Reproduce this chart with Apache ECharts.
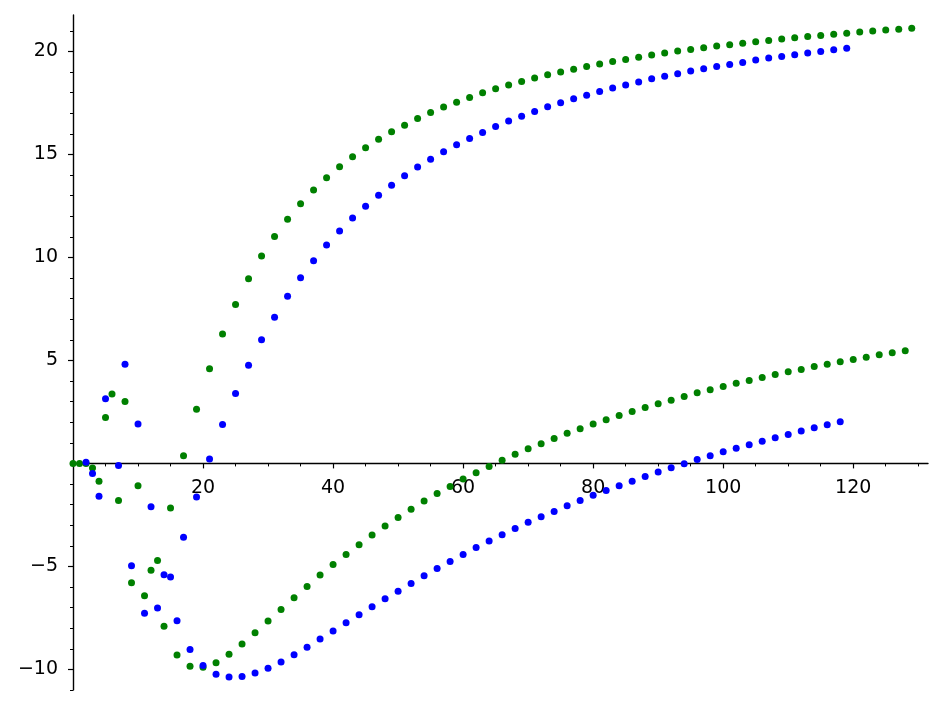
<!DOCTYPE html>
<html>
<head>
<meta charset="utf-8">
<script src="https://cdn.jsdelivr.net/npm/echarts@6/dist/echarts.min.js"></script>
<style>
  html, body { margin: 0; padding: 0; background: #fff; }
  #chart { width: 943px; height: 705px; }
</style>
</head>
<body>
<div id="chart"></div>
<script>
// y value of point n sits at index n (x = n)
var greenY = [
  0, 0, 0, -0.22, -0.87, 2.23, 3.37, -1.80, 3.01, -5.79,
  -1.08, -6.42, -5.19, -4.71, -7.90, -2.17, -9.30, 0.37, -9.85, 2.63,
  -9.90, 4.60, -9.68, 6.28, -9.27, 7.72, -8.77, 8.97, -8.22, 10.07,
  -7.65, 11.02, -7.09, 11.86, -6.52, 12.61, -5.97, 13.27, -5.42, 13.87,
  -4.91, 14.40, -4.42, 14.89, -3.95, 15.33, -3.48, 15.74, -3.04, 16.10,
  -2.62, 16.42, -2.22, 16.75, -1.83, 17.04, -1.46, 17.30, -1.12, 17.54,
  -0.76, 17.77, -0.45, 17.99, -0.15, 18.19, 0.15, 18.37, 0.44, 18.54,
  0.71, 18.71, 0.96, 18.87, 1.21, 19.00, 1.46, 19.14, 1.68, 19.27,
  1.91, 19.39, 2.12, 19.51, 2.33, 19.61, 2.52, 19.72, 2.72, 19.83,
  2.90, 19.92, 3.07, 20.02, 3.25, 20.10, 3.43, 20.18, 3.58, 20.26,
  3.74, 20.32, 3.89, 20.40, 4.03, 20.47, 4.17, 20.53, 4.32, 20.60,
  4.45, 20.66, 4.56, 20.73, 4.71, 20.78, 4.82, 20.83, 4.94, 20.89,
  5.05, 20.94, 5.16, 20.99, 5.27, 21.04, 5.37, 21.08, 5.47, 21.13
]

var blueY = [
  null, null, 0.06, -0.49, -1.59, 3.14, null, -0.10, 4.82, -4.97,
  1.91, -7.27, -2.10, -7.02, -5.41, -5.52, -7.64, -3.58, -9.03, -1.63,
  -9.81, 0.21, -10.23, 1.89, -10.37, 3.40, -10.34, 4.76, -10.18, 6.00,
  -9.94, 7.10, -9.64, 8.11, -9.29, 9.01, -8.92, 9.84, -8.53, 10.60,
  -8.14, 11.28, -7.74, 11.91, -7.35, 12.48, -6.96, 13.02, -6.57, 13.51,
  -6.20, 13.96, -5.83, 14.39, -5.45, 14.77, -5.10, 15.13, -4.76, 15.47,
  -4.42, 15.78, -4.08, 16.07, -3.77, 16.36, -3.46, 16.62, -3.16, 16.86,
  -2.86, 17.09, -2.59, 17.31, -2.33, 17.51, -2.06, 17.70, -1.80, 17.88,
  -1.55, 18.06, -1.31, 18.22, -1.08, 18.37, -0.86, 18.52, -0.63, 18.67,
  -0.42, 18.80, -0.21, 18.92, -0.02, 19.05, 0.19, 19.16, 0.37, 19.27,
  0.57, 19.37, 0.74, 19.47, 0.91, 19.58, 1.08, 19.68, 1.25, 19.76,
  1.41, 19.84, 1.57, 19.92, 1.73, 20.00, 1.88, 20.08, 2.02, 20.15
]

var xMajorTicks = [20, 40, 60, 80, 100, 120]
var xMinorTicks = [5, 10, 15, 25, 30, 35, 45, 50, 55, 65, 70, 75, 85, 90, 95, 105, 110, 115, 125, 130]
var yMajorTicks = [-10, -5, 5, 10, 15, 20]
var yMinorTicks = [-11, -9, -8, -7, -6, -4, -3, -2, -1, 1, 2, 3, 4, 6, 7, 8, 9, 11, 12, 13, 14, 16, 17, 18, 19, 21]

function toPoints(ys) {
  var pts = []
  ys.forEach(function(y, i) {
    if (y !== null) pts.push([i, y])
  })
  return pts
}

function minusLabel(v) {
  return v < 0 ? '\u2212' + (-v) : String(v)
}

var X_MIN = 0
var X_MAX = 131.5
var Y_MIN = -11.0
var Y_MAX = 21.77

var PLOT_TOP = 15
var PLOT_BOTTOM = 690
// pixel row of y = 0, where the x axis is drawn
var ZERO_ROW = PLOT_TOP + (PLOT_BOTTOM - PLOT_TOP) * Y_MAX / (Y_MAX - Y_MIN)

var labelFont = {
  fontFamily: 'DejaVu Sans',
  fontSize: 19,
  color: '#000'
}

var chart = echarts.init(document.getElementById('chart'), null, { renderer: 'canvas' })

chart.setOption({
  animation: false,
  backgroundColor: '#fff',
  grid: [
    {
      // data area
      left: 73,
      right: 15,
      top: PLOT_TOP,
      height: PLOT_BOTTOM - PLOT_TOP,
      containLabel: false,
      outerBoundsMode: 'none'
    },
    {
      // carries the x axis, its bottom edge sits on y = 0
      left: 73,
      right: 15,
      top: PLOT_TOP,
      height: ZERO_ROW - PLOT_TOP,
      containLabel: false,
      outerBoundsMode: 'none'
    }
  ],
  xAxis: [
    {
      type: 'value',
      gridIndex: 0,
      min: X_MIN,
      max: X_MAX,
      show: false
    },
    {
      type: 'value',
      gridIndex: 1,
      position: 'bottom',
      min: X_MIN,
      max: X_MAX,
      axisLine: {
        show: true,
        onZero: false,
        lineStyle: { color: '#000', width: 1.4 }
      },
      axisTick: {
        show: true,
        customValues: xMajorTicks,
        length: 5,
        lineStyle: { color: '#000', width: 1.2 }
      },
      axisLabel: Object.assign({
        show: true,
        customValues: xMajorTicks,
        margin: 15,
        formatter: minusLabel
      }, labelFont),
      splitLine: { show: false }
    },
    {
      type: 'value',
      gridIndex: 1,
      position: 'bottom',
      min: X_MIN,
      max: X_MAX,
      axisLine: { show: false, onZero: false },
      axisTick: {
        show: true,
        customValues: xMinorTicks,
        length: 3,
        lineStyle: { color: '#000', width: 1 }
      },
      axisLabel: { show: false },
      splitLine: { show: false }
    }
  ],
  yAxis: [
    {
      type: 'value',
      gridIndex: 0,
      position: 'left',
      min: Y_MIN,
      max: Y_MAX,
      axisLine: {
        show: true,
        onZero: false,
        lineStyle: { color: '#000', width: 1.4 }
      },
      axisTick: {
        show: true,
        customValues: yMajorTicks,
        length: 5,
        lineStyle: { color: '#000', width: 1.2 }
      },
      axisLabel: Object.assign({
        show: true,
        customValues: yMajorTicks,
        margin: 15,
        formatter: minusLabel
      }, labelFont),
      splitLine: { show: false }
    },
    {
      type: 'value',
      gridIndex: 0,
      position: 'left',
      min: Y_MIN,
      max: Y_MAX,
      axisLine: { show: false, onZero: false },
      axisTick: {
        show: true,
        customValues: yMinorTicks,
        length: 3,
        lineStyle: { color: '#000', width: 1 }
      },
      axisLabel: { show: false },
      splitLine: { show: false }
    },
    {
      type: 'value',
      gridIndex: 1,
      min: 0,
      max: 1,
      show: false
    }
  ],
  series: [
    {
      name: 'green',
      type: 'scatter',
      xAxisIndex: 0,
      yAxisIndex: 0,
      symbol: 'circle',
      symbolSize: 7,
      itemStyle: { color: '#008000', opacity: 1 },
      data: toPoints(greenY)
    },
    {
      name: 'blue',
      type: 'scatter',
      xAxisIndex: 0,
      yAxisIndex: 0,
      symbol: 'circle',
      symbolSize: 7,
      itemStyle: { color: '#0000ff', opacity: 1 },
      data: toPoints(blueY)
    }
  ]
})
</script>
</body>
</html>
